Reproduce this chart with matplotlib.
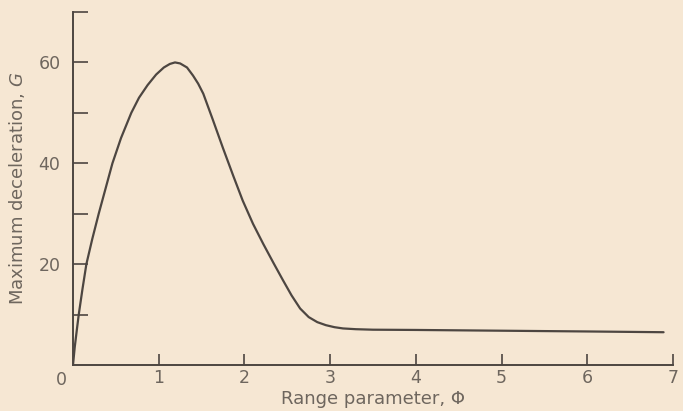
import matplotlib
matplotlib.use("Agg")
import matplotlib.pyplot as plt

# curve
phi = [0.0, 0.02, 0.045, 0.067, 0.11, 0.156, 0.225, 0.30, 0.38, 0.46,
       0.56, 0.68, 0.77, 0.87, 0.97, 1.06, 1.13, 1.19, 1.25, 1.33, 1.40,
       1.46, 1.52, 1.63, 1.75, 1.87, 1.98, 2.10, 2.22, 2.34, 2.45, 2.55,
       2.65, 2.75, 2.85, 2.95, 3.05, 3.15, 3.3, 3.5, 4.0, 5.0, 6.0, 6.89]
g_max = [0.0, 3.5, 7.0, 10.0, 15.0, 20.0, 25.0, 30.0, 35.0, 40.0,
         45.0, 50.0, 53.0, 55.5, 57.6, 59.0, 59.7, 60.0, 59.8, 59.0, 57.4,
         55.8, 53.8, 48.7, 43.0, 37.5, 32.6, 28.0, 24.0, 20.2, 16.8, 13.8,
         11.2, 9.5, 8.5, 7.9, 7.5, 7.25, 7.1, 7.0, 6.95, 6.8, 6.65, 6.5]

x_ticks = [1, 2, 3, 4, 5, 6, 7]
y_ticks = [10, 20, 30, 40, 50, 60, 70]
y_labels = ["", "20", "", "40", "", "60", ""]

BG = "#f6e7d3"
INK = "#4d4641"
TXT = "#6e665e"

plt.rcParams["font.family"] = ["DejaVu Sans"]

fig = plt.figure(figsize=(6.83, 4.11), dpi=100, facecolor=BG)
ax = fig.add_axes([73 / 683, 1 - 365 / 411, 600 / 683, 353 / 411])
ax.set_facecolor(BG)

ax.plot(phi, g_max, color=INK, linewidth=1.6, solid_capstyle="round",
        solid_joinstyle="round")

ax.set_xlim(0, 7)
ax.set_ylim(0, 70)
for s in ("top", "right"):
    ax.spines[s].set_visible(False)
for s in ("left", "bottom"):
    ax.spines[s].set_color(INK)
    ax.spines[s].set_linewidth(1.4)

ax.set_xticks(x_ticks)
ax.set_xticklabels([str(v) for v in x_ticks])
ax.set_yticks(y_ticks)
ax.set_yticklabels(y_labels)
ax.tick_params(axis="both", direction="in", color=INK, width=1.2,
               labelcolor=TXT, labelsize=12.5)
ax.tick_params(axis="x", length=8, pad=3)
ax.tick_params(axis="y", length=11, pad=9)

ax.text(-0.13, -1.2, "0", ha="center", va="top", fontsize=12.5, color=TXT)

ax.set_xlabel("Range parameter, Φ", fontsize=13, color=TXT, labelpad=2)
ax.set_ylabel("Maximum deceleration, $\\mathit{G}$", fontsize=13,
              color=TXT, labelpad=8)

fig.savefig("out.png", dpi=100, facecolor=BG)
